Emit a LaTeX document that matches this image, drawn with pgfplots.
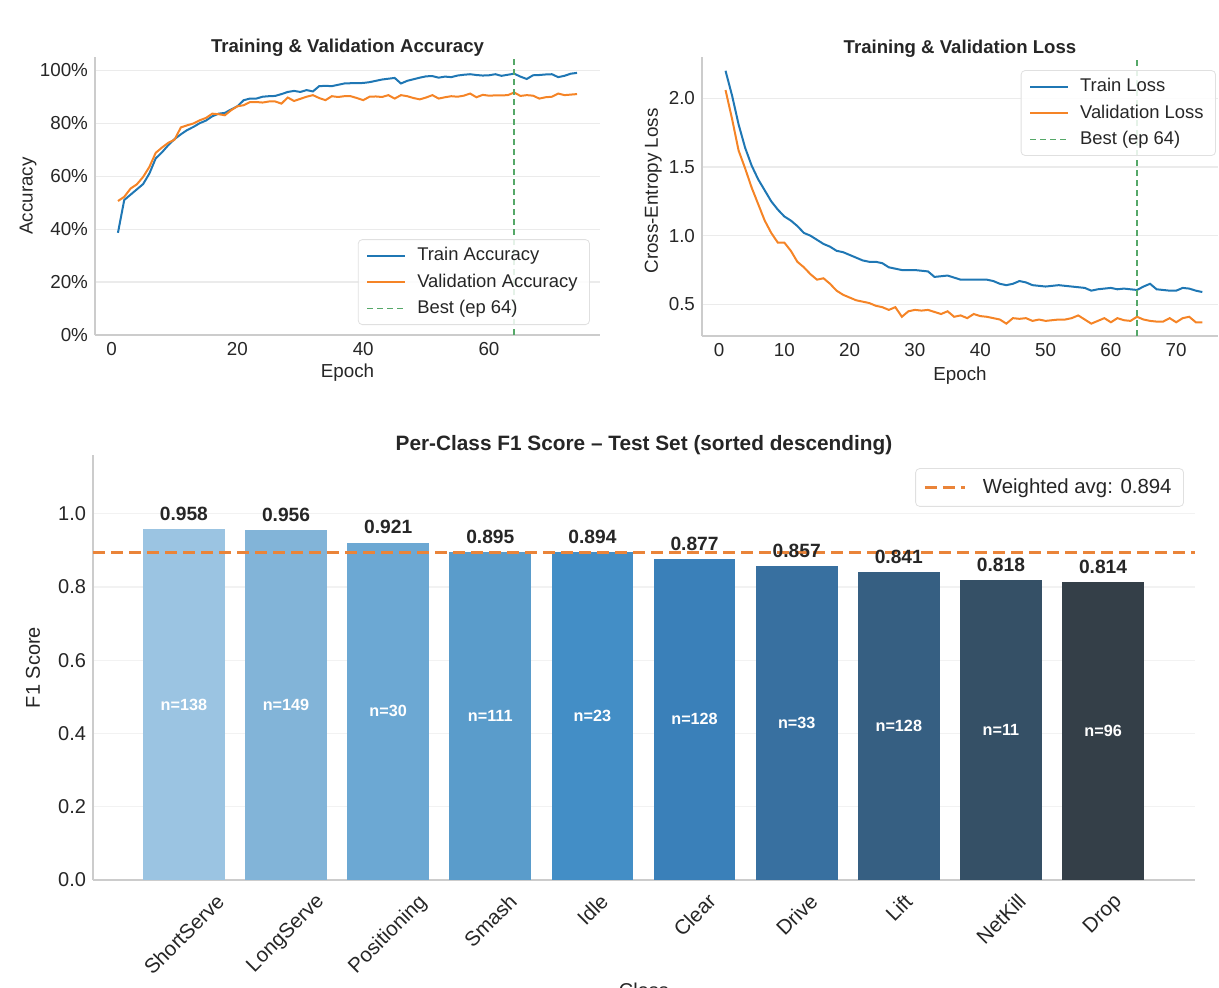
\documentclass[border=0pt]{standalone}
\usepackage{fontspec}
\setmainfont{Liberation Sans}
\usepackage{graphicx}
\usepackage{pgfplots}
\usepackage{pgfplotstable}
\pgfplotsset{compat=1.18}
\definecolor{tblue}{HTML}{1F77B4}
\definecolor{torange}{HTML}{F58426}
\definecolor{tgreen}{HTML}{55A868}
\definecolor{avgor}{HTML}{EA8439}
\definecolor{txt}{HTML}{262626}
\definecolor{spine}{HTML}{CCCCCC}
\definecolor{gridc}{HTML}{EBEBEB}
\definecolor{c0}{HTML}{9BC4E2}
\definecolor{c1}{HTML}{82B4D8}
\definecolor{c2}{HTML}{6CA8D3}
\definecolor{c3}{HTML}{5A9CCB}
\definecolor{c4}{HTML}{438EC6}
\definecolor{c5}{HTML}{3A80B9}
\definecolor{c6}{HTML}{3870A0}
\definecolor{c7}{HTML}{365F82}
\definecolor{c8}{HTML}{355066}
\definecolor{c9}{HTML}{343F48}

\pgfplotstableread{
ep tacc vacc tloss vloss
1 38.6 50.6 2.20 2.06
2 51.0 52.2 2.02 1.85
3 53.0 55.3 1.81 1.62
4 55.0 56.9 1.64 1.49
5 57.0 59.7 1.51 1.35
6 61.0 63.5 1.41 1.23
7 66.7 68.8 1.33 1.11
8 69.0 70.8 1.25 1.02
9 71.7 72.6 1.19 0.95
10 74.0 73.8 1.14 0.95
11 75.8 78.4 1.11 0.89
12 77.4 79.2 1.07 0.81
13 78.6 79.9 1.02 0.77
14 80.0 81.1 1.00 0.72
15 81.0 82.0 0.97 0.68
16 82.6 83.6 0.94 0.69
17 83.6 83.4 0.92 0.65
18 83.9 83.0 0.89 0.60
19 85.2 84.9 0.88 0.57
20 86.4 86.4 0.86 0.55
21 88.7 86.8 0.84 0.53
22 89.3 88.0 0.82 0.52
23 89.3 88.0 0.81 0.51
24 90.0 87.8 0.81 0.49
25 90.2 88.2 0.80 0.48
26 90.3 88.2 0.77 0.46
27 91.0 87.4 0.76 0.48
28 91.8 89.7 0.75 0.41
29 92.2 88.4 0.75 0.45
30 91.8 89.2 0.75 0.46
31 92.5 90.0 0.745 0.455
32 92.0 90.6 0.74 0.46
33 94.0 89.5 0.70 0.445
34 94.1 88.7 0.705 0.43
35 94.0 90.2 0.71 0.45
36 94.5 89.9 0.695 0.41
37 95.0 90.2 0.68 0.42
38 95.1 90.2 0.68 0.40
39 95.1 89.5 0.68 0.43
40 95.2 88.7 0.68 0.415
41 95.5 90.0 0.68 0.41
42 96.0 90.1 0.67 0.40
43 96.5 89.9 0.65 0.39
44 96.8 90.6 0.64 0.36
45 97.1 89.3 0.65 0.40
46 95.0 90.6 0.67 0.395
47 96.0 90.2 0.66 0.40
48 96.6 89.5 0.64 0.38
49 97.2 89.0 0.635 0.39
50 97.7 89.7 0.63 0.38
51 97.8 90.6 0.635 0.385
52 97.2 89.3 0.64 0.39
53 97.6 89.8 0.635 0.39
54 97.4 90.2 0.63 0.40
55 98.0 90.0 0.625 0.42
56 98.3 90.4 0.62 0.39
57 98.5 91.2 0.60 0.36
58 98.2 89.8 0.61 0.38
59 98.0 90.7 0.615 0.40
60 98.1 90.4 0.62 0.37
61 98.5 90.5 0.61 0.40
62 97.9 90.5 0.615 0.385
63 98.3 90.6 0.61 0.38
64 98.7 91.6 0.605 0.41
65 97.6 90.3 0.63 0.39
66 96.7 90.6 0.65 0.38
67 98.1 90.4 0.61 0.375
68 98.2 89.3 0.605 0.375
69 98.4 89.8 0.60 0.40
70 98.5 90.0 0.60 0.37
71 97.4 91.2 0.62 0.40
72 97.9 90.6 0.615 0.41
73 98.7 90.8 0.60 0.37
74 99.0 91.0 0.59 0.37
}\hist

\pgfplotstableread{
x f1 n
0 0.958 138
1 0.956 149
2 0.921 30
3 0.895 111
4 0.894 23
5 0.877 128
6 0.857 33
7 0.841 128
8 0.818 11
9 0.814 96
}\fone

\pgfplotsset{
 base/.style={
  scale only axis,
  axis x line*=bottom, axis y line*=left,
  axis line style={-, spine, line width=0.7pt},
  tick style={draw=none},
  ymajorgrids, grid style={gridc, line width=0.6pt},
  tick label style={font=\fontsize{9.4}{11}\selectfont, text=txt},
  label style={font=\fontsize{9.4}{11}\selectfont, text=txt},
  title style={font=\bfseries\fontsize{9.3}{11}\selectfont, text=txt, at={(0.5,1)}, anchor=south, yshift=-9pt},
  /pgf/number format/assume math mode=true,
  legend style={font=\fontsize{9.2}{11}\selectfont, text=txt, draw=black!12, rounded corners=2pt, fill=white, fill opacity=0.85, text opacity=1, inner xsep=4pt, inner ysep=2pt, row sep=1pt},
  legend cell align=left,
  legend image code/.code={\draw[##1] (0pt,0pt) -- (19pt,0pt); \path[draw=none] (0pt,0pt) -- (23pt,0pt);},
 },
 barl/.style={ybar, bar width=0.8, bar shift=0pt, draw=none, fill=#1, forget plot,
   nodes near coords={\pgfmathprintnumber[fixed,fixed zerofill,precision=3]{\pgfplotspointmeta}},
   every node near coord/.append style={font=\bfseries\fontsize{9.6}{11}\selectfont, text=txt, inner sep=0pt, yshift=4pt}},
}

\begin{document}
\begin{tikzpicture}
% Accuracy
\begin{axis}[base, at={(47.5pt,-28.5pt)}, anchor=north west,
  width=252.5pt, height=139pt,
  xmin=-2.65, xmax=77.65, ymin=0, ymax=105,
  xtick={0,20,40,60}, ytick={0,20,40,60,80,100},
  yticklabels={0\%,20\%,40\%,60\%,80\%,100\%},
  xlabel={Epoch}, ylabel={Accuracy},
  xlabel style={at={(rel axis cs:0.5,0)}, anchor=center, yshift=-19pt},
  ylabel style={at={(rel axis cs:0,0.5)}, anchor=center, yshift=33.5pt},
  title={Training \& Validation Accuracy},
  legend style={at={(0.98,0.036)}, anchor=south east}]
\addplot[tblue, line width=1pt] table[x=ep, y=tacc] {\hist};
\addlegendentry{Train Accuracy}
\addplot[torange, line width=1pt] table[x=ep, y=vacc] {\hist};
\addlegendentry{Validation Accuracy}
\addplot[tgreen, line width=0.8pt, dash pattern=on 3pt off 2pt] coordinates {(64,0) (64,105)};
\addlegendentry{Best (ep 64)}
\end{axis}
% Loss
\begin{axis}[base, at={(351pt,-28.5pt)}, anchor=north west,
  width=258pt, height=139.5pt,
  xmin=-2.6, xmax=76.4, ymin=0.27, ymax=2.3,
  xtick={0,10,20,30,40,50,60,70}, ytick={0.5,1.0,1.5,2.0},
  yticklabel style={/pgf/number format/.cd, fixed, fixed zerofill, precision=1},
  xlabel={Epoch}, ylabel={Cross-Entropy Loss},
  xlabel style={at={(rel axis cs:0.5,0)}, anchor=center, yshift=-20pt},
  ylabel style={at={(rel axis cs:0,0.52)}, anchor=center, yshift=24.4pt},
  title={Training \& Validation Loss},
  title style={yshift=-0.5pt},
  legend style={at={(0.996,0.953)}, anchor=north east}]
\addplot[tblue, line width=1pt] table[x=ep, y=tloss] {\hist};
\addlegendentry{Train Loss}
\addplot[torange, line width=1pt] table[x=ep, y=vloss] {\hist};
\addlegendentry{Validation Loss}
\addplot[tgreen, line width=0.8pt, dash pattern=on 3pt off 2pt] coordinates {(64,0.27) (64,2.3)};
\addlegendentry{Best (ep 64)}
\end{axis}
% F1
\begin{axis}[base, at={(46.5pt,-227.5pt)}, anchor=north west,
  width=551pt, height=212.5pt,
  xmin=-0.89, xmax=9.9, ymin=0, ymax=1.16,
  xtick={0,1,2,3,4,5,6,7,8,9},
  xticklabels={\rotatebox{45}{ShortServe},\rotatebox{45}{LongServe},\rotatebox{45}{Positioning},\rotatebox{45}{Smash},\rotatebox{45}{Idle},\rotatebox{45}{Clear},\rotatebox{45}{Drive},\rotatebox{45}{Lift},\rotatebox{45}{NetKill},\rotatebox{45}{Drop}},
  xticklabel style={anchor=north, inner sep=0pt, yshift=-6pt, font=\fontsize{10.3}{12}\selectfont},
  ytick={0,0.2,0.4,0.6,0.8,1.0},
  yticklabel style={font=\fontsize{10}{12}\selectfont, /pgf/number format/.cd, fixed, fixed zerofill, precision=1},
  grid style={black!5, line width=0.6pt},
  xlabel={Class}, ylabel={F1 Score},
  label style={font=\fontsize{10}{12}\selectfont},
  xlabel style={at={(rel axis cs:0.5,0)}, anchor=center, yshift=-55pt},
  ylabel style={at={(rel axis cs:0,0.5)}, anchor=center, yshift=30pt},
  title={Per-Class F1 Score -- Test Set (sorted descending)},
  title style={font=\bfseries\fontsize{10.4}{12}\selectfont, yshift=-0.5pt},
  legend style={at={(0.99,0.969)}, anchor=north east, font=\fontsize{10.2}{12}\selectfont, inner xsep=4pt, inner ysep=3pt},
  legend image code/.code={\draw[#1] (0pt,0pt) -- (20pt,0pt); \path[draw=none] (0pt,0pt) -- (27pt,0pt);}]
\addplot[barl=c0] coordinates {(0,0.958)};
\addplot[barl=c1] coordinates {(1,0.956)};
\addplot[barl=c2] coordinates {(2,0.921)};
\addplot[barl=c3] coordinates {(3,0.895)};
\addplot[barl=c4] coordinates {(4,0.894)};
\addplot[barl=c5] coordinates {(5,0.877)};
\addplot[barl=c6] coordinates {(6,0.857)};
\addplot[barl=c7] coordinates {(7,0.841)};
\addplot[barl=c8] coordinates {(8,0.818)};
\addplot[barl=c9] coordinates {(9,0.814)};
\addplot[draw=none, mark=none, forget plot, point meta=explicit symbolic,
  nodes near coords={n=\pgfplotspointmeta},
  every node near coord/.append style={anchor=center, font=\bfseries\fontsize{8.1}{10}\selectfont, text=white, inner sep=0pt}]
  table[x=x, y expr=\thisrow{f1}/2, meta=n] {\fone};
\addplot[avgor, line width=1.3pt, dash pattern=on 6pt off 3pt] coordinates {(-0.89,0.894) (9.9,0.894)};
\addlegendentry{Weighted avg: 0.894}
\end{axis}
\pgfresetboundingbox
\useasboundingbox (0,0) rectangle (609.5pt,-493.5pt);
\end{tikzpicture}
\end{document}
